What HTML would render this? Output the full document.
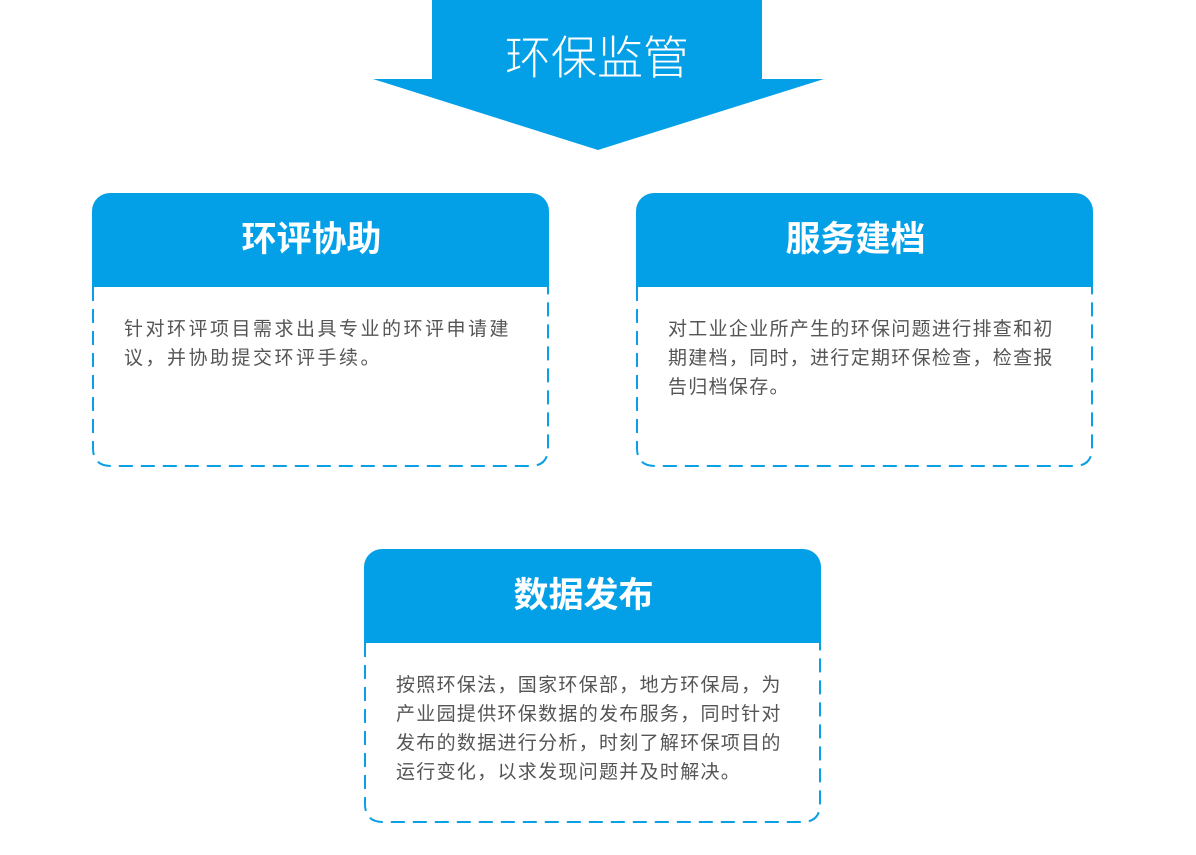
<!DOCTYPE html>
<html><head><meta charset="utf-8"><style>
body{margin:0;width:1196px;height:855px;background:#fff;position:relative;overflow:hidden;font-family:"Liberation Sans","Noto Sans CJK SC",sans-serif}
.h{position:absolute;background:#03a0e8;border-radius:18px 18px 0 0;height:94px;width:457px}
.h span{position:absolute;left:0;width:439px;text-align:center;color:#fff;font-size:35px;font-weight:bold;line-height:94px}
.t{position:absolute;color:#555;font-size:19px;line-height:29px;letter-spacing:1.3px;white-space:nowrap}
</style></head><body>
<svg width="1196" height="855" style="position:absolute;left:0;top:0">
<rect x="432" y="0" width="330" height="80" fill="#03a0e8"/>
<polygon points="373,79 824,79 598,150" fill="#03a0e8"/>
<g fill="none" stroke="#0aa0e6" stroke-width="2" stroke-dasharray="14,8">
<path d="M93,287 V448 Q93,466 111,466 H530 Q548,466 548,448 V287"/>
<path d="M637,287 V448 Q637,466 655,466 H1074 Q1092,466 1092,448 V287"/>
<path d="M365,643 V804 Q365,822 383,822 H802 Q820,822 820,804 V643"/>
</g>
</svg>
<div style="position:absolute;left:432px;top:28px;width:330px;text-align:center;color:#fff;font-size:46px;line-height:60px;font-weight:300">环保监管</div>
<div class="h" style="left:92px;top:193px"><span>环评协助</span></div>
<div class="h" style="left:636px;top:193px"><span>服务建档</span></div>
<div class="h" style="left:364px;top:549px"><span>数据发布</span></div>
<div class="t" style="left:124px;top:315px;letter-spacing:2.5px">针对环评项目需求出具专业的环评申请建<br>议，并协助提交环评手续。</div>
<div class="t" style="left:668px;top:315px">对工业企业所产生的环保问题进行排查和初<br>期建档，同时，进行定期环保检查，检查报<br>告归档保存。</div>
<div class="t" style="left:396px;top:671px">按照环保法，国家环保部，地方环保局，为<br>产业园提供环保数据的发布服务，同时针对<br>发布的数据进行分析，时刻了解环保项目的<br>运行变化，以求发现问题并及时解决。</div>
</body></html>
